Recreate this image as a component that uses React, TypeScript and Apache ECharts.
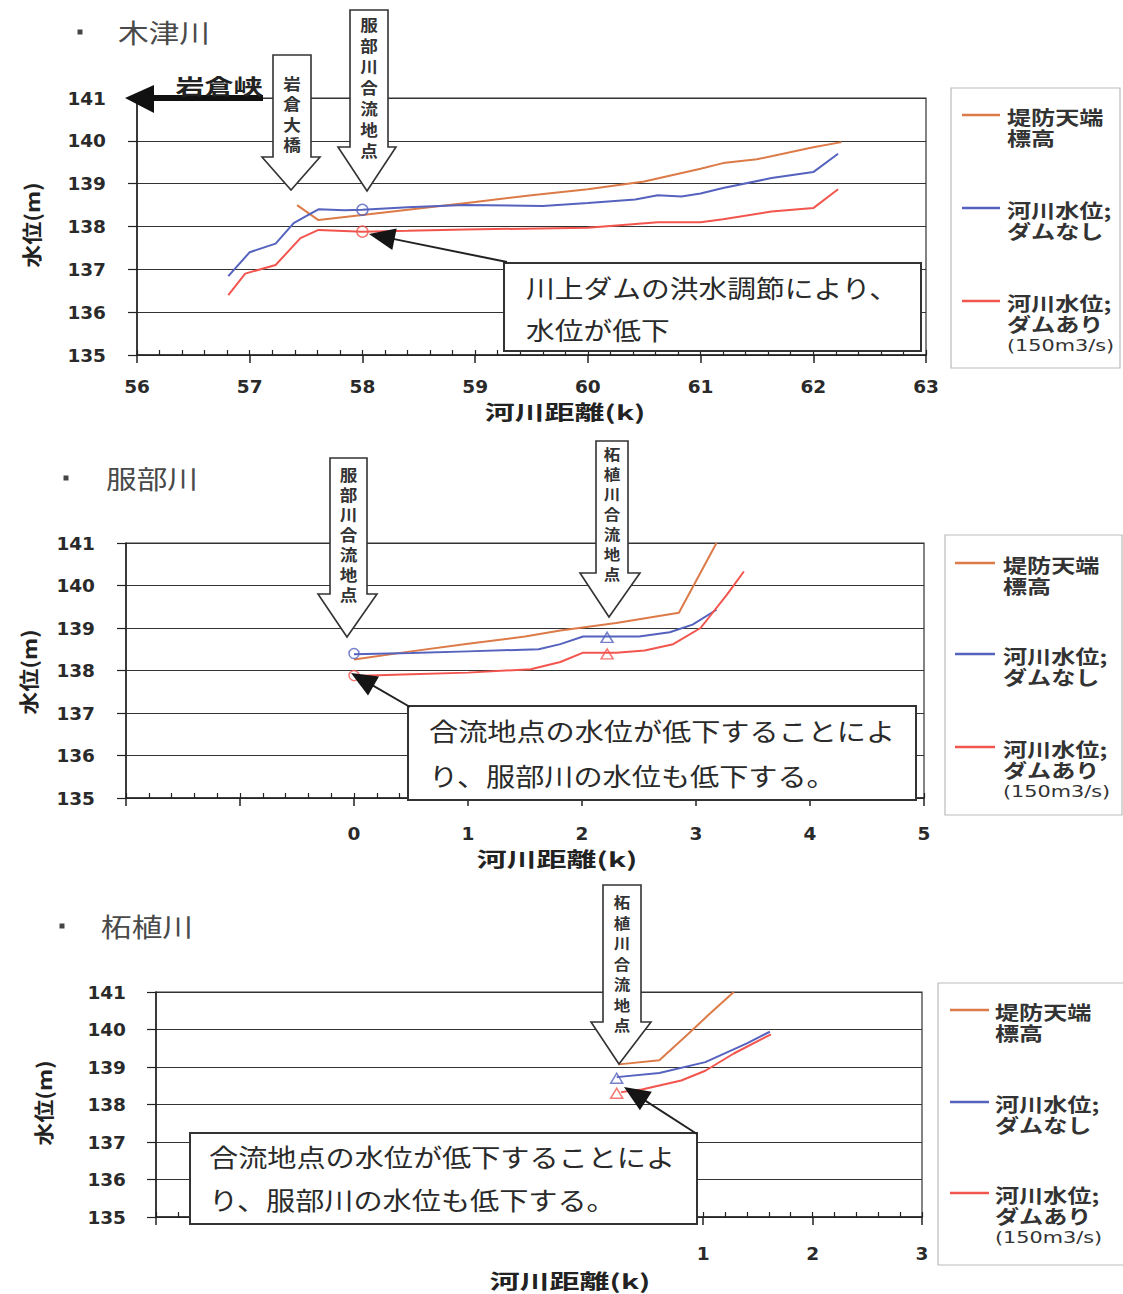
import React, { useEffect, useRef } from 'react';
import * as echarts from 'echarts';

// ---------- data ----------
const seriesNames = ['堤防天端標高', '河川水位;ダムなし', '河川水位;ダムあり(150m3/s)'];
const lineColors = ['#DC7A48', '#5562BE', '#F2554E'];
const panelTitles = ['木津川', '服部川', '柘植川'];
const xRanges = [[56, 63], [-2, 5], [-4, 3]];
const yRange = [135, 141];
const xAxisTitle = '河川距離(k)';
const yAxisTitle = '水位(m)';

// 木津川
const kizuLevee = [[57.42, 138.5], [57.61, 138.15], [58.0, 138.27], [58.5, 138.42], [59.0, 138.57], [59.5, 138.73], [60.0, 138.87], [60.5, 139.05], [61.0, 139.35], [61.2, 139.48], [61.5, 139.57], [62.0, 139.85], [62.25, 139.97]];
const kizuNoDam = [[56.81, 136.84], [57.0, 137.4], [57.23, 137.6], [57.39, 138.08], [57.5, 138.24], [57.61, 138.4], [57.84, 138.38], [58.0, 138.39], [58.4, 138.45], [58.9, 138.5], [59.6, 138.48], [60.0, 138.55], [60.42, 138.63], [60.62, 138.73], [60.83, 138.7], [61.0, 138.77], [61.2, 138.9], [61.63, 139.13], [62.0, 139.27], [62.22, 139.7]];
const kizuDam = [[56.81, 136.4], [56.96, 136.9], [57.23, 137.1], [57.45, 137.73], [57.61, 137.92], [58.0, 137.88], [58.4, 137.9], [58.91, 137.93], [60.0, 137.97], [60.62, 138.1], [61.0, 138.1], [61.2, 138.17], [61.63, 138.35], [62.0, 138.43], [62.22, 138.87]];
const kizuMarkNoDam = [[58.0, 138.39]];
const kizuMarkDam = [[58.0, 137.88]];

// 服部川
const hattoriLevee = [[0, 138.26], [0.5, 138.45], [1.0, 138.63], [1.5, 138.8], [1.81, 138.94], [2.3, 139.12], [2.85, 139.36], [3.18, 141.0]];
const hattoriNoDam = [[0, 138.38], [0.5, 138.41], [1.0, 138.45], [1.62, 138.5], [1.81, 138.62], [2.01, 138.8], [2.2, 138.8], [2.5, 138.8], [2.77, 138.9], [2.97, 139.08], [3.18, 139.43]];
const hattoriDam = [[0, 137.87], [0.5, 137.91], [1.0, 137.95], [1.55, 138.03], [1.81, 138.2], [2.01, 138.42], [2.3, 138.42], [2.55, 138.47], [2.8, 138.62], [3.04, 139.0], [3.27, 139.78], [3.42, 140.33]];
const hattoriCircleNoDam = [[0, 138.4]];
const hattoriCircleDam = [[0, 137.88]];
const hattoriTriNoDam = [[2.22, 138.78]];
const hattoriTriDam = [[2.22, 138.39]];

// 柘植川
const tsugeLevee = [[0.23, 139.07], [0.6, 139.18], [0.87, 139.9], [1.06, 140.42], [1.28, 141.0]];
const tsugeNoDam = [[0.21, 138.73], [0.6, 138.84], [1.02, 139.13], [1.4, 139.63], [1.61, 139.94]];
const tsugeDam = [[0.25, 138.33], [0.44, 138.4], [0.8, 138.64], [1.02, 138.9], [1.28, 139.36], [1.62, 139.87]];
const tsugeTriNoDam = [[0.21, 138.7]];
const tsugeTriDam = [[0.21, 138.3]];

const FONT_JP = '"Noto Sans CJK JP", sans-serif';
const FONT_NUM = '"DejaVu Sans", sans-serif';
const INK = '#222';

// ---------- layout ----------
const grids = [
  { left: 137, top: 98, width: 789, height: 257 },
  { left: 126, top: 543, width: 798, height: 255 },
  { left: 156, top: 992, width: 766, height: 225 },
];
const xLabelMargin = [22, 26, 27];
const yLabelMargin = [31, 31, 30];
const xTitlePos = [[565, 411], [557, 858], [570, 1280]];
const yTitlePos = [[31, 225], [28, 672], [43, 1103]];
const hideLabel = [(v: number) => false, (v: number) => v < 0, (v: number) => v <= 0];

function blockArrow(sl: number, sr: number, top: number, headY: number, hl: number, hr: number, tx: number, ty: number, label: string, textTop: number, lh: number, fs: number) {
  return [
    {
      type: 'polygon', z: 100,
      shape: { points: [[sl, top], [sr, top], [sr, headY], [hr, headY], [tx, ty], [hl, headY], [sl, headY]] },
      style: { fill: '#fff', stroke: '#333', lineWidth: 1.6 },
    },
    {
      type: 'text', z: 101, x: (sl + sr) / 2, y: textTop, scaleX: 1.1,
      style: { text: label.split('').join('\n'), fontSize: fs, lineHeight: lh, fontFamily: FONT_JP, fontWeight: 'bold', fill: '#333', align: 'center', verticalAlign: 'top' },
    },
  ];
}

function pointer(sx: number, sy: number, tx: number, ty: number, len: number, half: number) {
  const dx = tx - sx, dy = ty - sy;
  const d = Math.hypot(dx, dy);
  const ux = dx / d, uy = dy / d;
  const bx = tx - ux * len, by = ty - uy * len;
  const nx = -uy, ny = ux;
  return [
    { type: 'line', z: 102, shape: { x1: sx, y1: sy, x2: bx + ux * 4, y2: by + uy * 4 }, style: { stroke: '#222', lineWidth: 2 } },
    { type: 'polygon', z: 103, shape: { points: [[tx, ty], [bx + nx * half, by + ny * half], [bx - nx * half, by - ny * half]] }, style: { fill: '#151515' } },
  ];
}

function noteBox(x: number, y: number, w: number, h: number, lines: string[], tx: number, ys: number[], fs: number, sx: number) {
  const els: any[] = [
    { type: 'rect', z: 100, shape: { x, y, width: w, height: h }, style: { fill: '#fff', stroke: '#333', lineWidth: 2 } },
  ];
  lines.forEach((t, i) => {
    els.push({ type: 'text', z: 101, x: tx, y: ys[i], scaleX: sx, style: { text: t, fontSize: fs, fontFamily: FONT_JP, fill: '#2a2a2a', align: 'left', verticalAlign: 'middle' } });
  });
  return els;
}

function legendBox(x: number, y: number, w: number, h: number, lx1: number, lx2: number, tx: number, ys: number[]) {
  const els: any[] = [
    { type: 'rect', z: 100, shape: { x, y, width: w, height: h }, style: { fill: '#fff', stroke: '#bbb', lineWidth: 1.2 } },
  ];
  const texts = [['堤防天端', '標高'], ['河川水位;', 'ダムなし'], ['河川水位;', 'ダムあり']];
  ys.forEach((yy, i) => {
    els.push({ type: 'line', z: 101, shape: { x1: lx1, y1: yy, x2: lx2, y2: yy }, style: { stroke: lineColors[i], lineWidth: 2.5 } });
    els.push({ type: 'text', z: 101, x: tx, y: yy - 9, scaleX: 1.27, style: { text: texts[i].join('\n'), fontSize: 19, lineHeight: 21, fontFamily: FONT_JP, fontWeight: 'bold', fill: '#333', align: 'left', verticalAlign: 'top' } });
  });
  els.push({ type: 'text', z: 101, x: tx, y: ys[2] + 44, scaleX: 1.3, style: { text: '(150m3/s)', fontSize: 16, fontFamily: FONT_NUM, fill: '#333', align: 'left', verticalAlign: 'middle' } });
  return els;
}

function title(bx: number, by: number, tx: number, text: string) {
  return [
    { type: 'rect', z: 100, shape: { x: bx - 2.5, y: by - 2.5, width: 5, height: 5 }, style: { fill: '#444' } },
    { type: 'text', z: 100, x: tx, y: by, scaleX: 1.18, style: { text, fontSize: 26, fontFamily: FONT_JP, fill: '#4a4a4a', align: 'left', verticalAlign: 'middle' } },
  ];
}

function axisTitles(i: number) {
  return [
    { type: 'text', z: 100, x: xTitlePos[i][0], y: xTitlePos[i][1], scaleX: 1.5, style: { text: xAxisTitle, fontSize: 20, fontWeight: 'bold', fontFamily: FONT_JP, fill: INK, align: 'center', verticalAlign: 'middle' } },
    { type: 'text', z: 100, x: yTitlePos[i][0], y: yTitlePos[i][1], rotation: Math.PI / 2, scaleX: 1.15, style: { text: yAxisTitle, fontSize: 20, fontWeight: 'bold', fontFamily: FONT_JP, fill: INK, align: 'center', verticalAlign: 'middle' } },
  ];
}

export default function App() {
  const ref = useRef<HTMLDivElement>(null);
  useEffect(() => {
    if (!ref.current) return;
    const chart = echarts.init(ref.current, null, { renderer: 'svg' });

    const xAxis: any[] = [];
    const yAxis: any[] = [];
    grids.forEach((g, i) => {
      xAxis.push({
        gridIndex: i, type: 'value', min: xRanges[i][0], max: xRanges[i][1], interval: 1, position: 'bottom',
        axisLine: { show: true, onZero: false, lineStyle: { color: INK, width: 1.5 } },
        axisTick: { show: true, length: 8, lineStyle: { color: INK, width: 1.5 } },
        axisLabel: { margin: xLabelMargin[i], fontFamily: FONT_NUM, fontWeight: 'bold', fontSize: 18.5, color: '#2a2a2a', formatter: (v: number) => (hideLabel[i](v) ? '' : String(v)) },
        splitLine: { show: false },
      });
      xAxis.push({
        gridIndex: i, type: 'value', min: xRanges[i][0], max: xRanges[i][1], interval: 0.2, position: 'bottom',
        axisLine: { show: false, onZero: false },
        axisTick: { show: true, inside: true, length: 5, lineStyle: { color: INK, width: 1.2 } },
        axisLabel: { show: false },
        splitLine: { show: false },
      });
      yAxis.push({
        gridIndex: i, type: 'value', min: yRange[0], max: yRange[1], interval: 1,
        axisLine: { show: true, onZero: false, lineStyle: { color: INK, width: 1.5 } },
        axisTick: { show: true, length: 9, lineStyle: { color: INK, width: 1.2 } },
        axisLabel: { margin: yLabelMargin[i], fontFamily: FONT_NUM, fontWeight: 'bold', fontSize: 18.5, color: '#2a2a2a' },
        splitLine: { show: true, lineStyle: { color: '#333', width: 1.2 } },
      });
    });

    const lineSeries = (name: string, data: number[][], panel: number, ci: number) => ({
      name, type: 'line', data, xAxisIndex: panel * 2, yAxisIndex: panel, showSymbol: false, symbol: 'none',
      lineStyle: { color: lineColors[ci], width: 2 }, itemStyle: { color: lineColors[ci] }, z: 3,
    });
    const markSeries = (name: string, data: number[][], panel: number, ci: number, symbol: string, size: any) => ({
      name, type: 'scatter', data, xAxisIndex: panel * 2, yAxisIndex: panel, symbol, symbolSize: size,
      itemStyle: { color: 'rgba(255,255,255,0)', borderColor: lineColors[ci], borderWidth: 1.5 }, z: 4,
    });

    const series = [
      lineSeries(seriesNames[0], kizuLevee, 0, 0),
      lineSeries(seriesNames[1], kizuNoDam, 0, 1),
      lineSeries(seriesNames[2], kizuDam, 0, 2),
      markSeries('木津川 合流地点 ダムなし', kizuMarkNoDam, 0, 1, 'circle', 11),
      markSeries('木津川 合流地点 ダムあり', kizuMarkDam, 0, 2, 'circle', 11),
      lineSeries(seriesNames[0], hattoriLevee, 1, 0),
      lineSeries(seriesNames[1], hattoriNoDam, 1, 1),
      lineSeries(seriesNames[2], hattoriDam, 1, 2),
      markSeries('服部川 合流地点 ダムなし', hattoriCircleNoDam, 1, 1, 'circle', 10),
      markSeries('服部川 合流地点 ダムあり', hattoriCircleDam, 1, 2, 'circle', 10),
      markSeries('服部川 柘植川合流 ダムなし', hattoriTriNoDam, 1, 1, 'triangle', [12, 10]),
      markSeries('服部川 柘植川合流 ダムあり', hattoriTriDam, 1, 2, 'triangle', [12, 10]),
      lineSeries(seriesNames[0], tsugeLevee, 2, 0),
      lineSeries(seriesNames[1], tsugeNoDam, 2, 1),
      lineSeries(seriesNames[2], tsugeDam, 2, 2),
      markSeries('柘植川 合流地点 ダムなし', tsugeTriNoDam, 2, 1, 'triangle', [12, 10]),
      markSeries('柘植川 合流地点 ダムあり', tsugeTriDam, 2, 2, 'triangle', [12, 10]),
    ];

    const graphic: any[] = [
      ...title(80, 32, 118, panelTitles[0]),
      ...title(66, 478, 106, panelTitles[1]),
      ...title(62, 926, 101, panelTitles[2]),
      ...axisTitles(0),
      ...axisTitles(1),
      ...axisTitles(2),
      // 岩倉峡 arrow
      { type: 'rect', z: 100, shape: { x: 150, y: 95, width: 113, height: 6 }, style: { fill: '#111' } },
      { type: 'polygon', z: 100, shape: { points: [[125, 98], [154, 85], [154, 113]] }, style: { fill: '#111' } },
      { type: 'text', z: 101, x: 219, y: 85, scaleX: 1.38, style: { text: '岩倉峡', fontSize: 21, fontWeight: 'bold', fontFamily: FONT_JP, fill: '#222', align: 'center', verticalAlign: 'middle' } },
      // block arrows
      ...blockArrow(273, 311, 55, 157, 262, 320, 291, 190, '岩倉大橋', 73, 20.5, 16),
      ...blockArrow(350, 388, 10, 147, 338, 396, 367, 191, '服部川合流地点', 14, 21, 16),
      ...blockArrow(330, 367, 458, 594, 318, 377, 347, 637, '服部川合流地点', 464, 20, 16),
      ...blockArrow(596, 628, 441, 573, 580, 640, 609, 617, '柘植川合流地点', 444, 20, 15),
      ...blockArrow(603, 641, 885, 1022, 591, 651, 619, 1064, '柘植川合流地点', 892, 20.5, 15),
      // note boxes
      ...noteBox(504, 263, 417, 88, ['川上ダムの洪水調節により、', '水位が低下'], 526, [287, 329], 25, 1.15),
      ...pointer(507, 262, 369, 234, 26, 11),
      ...noteBox(408, 706, 508, 94, ['合流地点の水位が低下することによ', 'り、服部川の水位も低下する。'], 429, [731, 776], 24.5, 1.19),
      ...pointer(410, 707, 351, 673, 26, 11),
      ...noteBox(190, 1133, 507, 91, ['合流地点の水位が低下することによ', 'り、服部川の水位も低下する。'], 209, [1157, 1200], 24.5, 1.19),
      ...pointer(697, 1134, 624, 1087, 26, 11),
      // legends
      ...legendBox(951, 88, 169, 280, 962, 1000, 1007, [115, 208, 301]),
      ...legendBox(945, 535, 177, 280, 955, 995, 1003, [563, 654, 747]),
      ...legendBox(938, 983, 186, 282, 950, 989, 995, [1010, 1102, 1193]),
    ];

    chart.setOption({
      animation: false,
      backgroundColor: '#fff',
      grid: grids.map((g) => ({ ...g, show: true, borderColor: '#333', borderWidth: 1.2, backgroundColor: 'transparent' })),
      xAxis,
      yAxis,
      series,
      graphic,
    });
    return () => chart.dispose();
  }, []);
  return <div ref={ref} style={{ position: 'absolute', left: 0, top: 0, width: 1123, height: 1294, background: '#fff' }} />;
}
